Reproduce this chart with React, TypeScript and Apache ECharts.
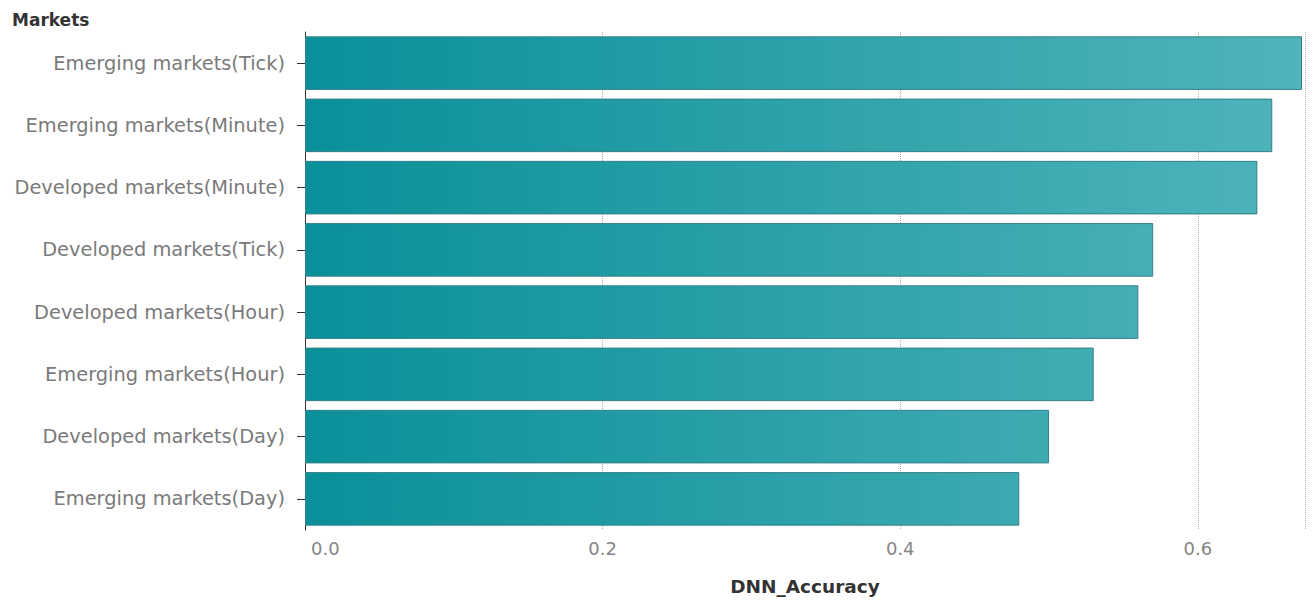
import React, { useEffect, useRef } from "react";
import * as echarts from "echarts";

const categories = [
  "Emerging markets(Tick)",
  "Emerging markets(Minute)",
  "Developed markets(Minute)",
  "Developed markets(Tick)",
  "Developed markets(Hour)",
  "Emerging markets(Hour)",
  "Developed markets(Day)",
  "Emerging markets(Day)",
];
const accuracy = [0.67, 0.65, 0.64, 0.57, 0.56, 0.53, 0.5, 0.48];
const xTicks = [0, 0.2, 0.4, 0.6];

export default function App() {
  const ref = useRef<HTMLDivElement>(null);
  useEffect(() => {
    const chart = echarts.init(ref.current!, undefined, { renderer: "svg" });
    const font = "DejaVu Sans";
    chart.setOption({
      animation: false,
      title: {
        text: "Markets",
        left: 12,
        top: 11,
        padding: 0,
        textStyle: { fontFamily: font, fontSize: 17, fontWeight: "bold", color: "#333" },
      },
      grid: {
        left: 305,
        right: 9,
        top: 32,
        bottom: 74,
        containLabel: false,
        outerBoundsMode: "none",
      },
      xAxis: {
        type: "value",
        min: 0,
        max: 0.672,
        interval: 0.2,
        name: "DNN_Accuracy",
        nameLocation: "middle",
        nameGap: 47,
        nameTextStyle: { fontFamily: font, fontSize: 18.5, fontWeight: "bold", color: "#333" },
        axisLine: { show: false },
        axisTick: { show: false },
        axisLabel: {
          fontFamily: font,
          fontSize: 18,
          color: "#858585",
          margin: 9,
          showMaxLabel: false,
          formatter: (v: number) => {
            if (!xTicks.some((t) => Math.abs(t - v) < 1e-9)) return "";
            return v === 0 ? "{p|0.0}" : v.toFixed(1);
          },
          rich: { p: { fontFamily: font, fontSize: 18, color: "#858585", padding: [0, 0, 0, 6] } },
          alignMinLabel: "left",
        },
        splitLine: { show: true, lineStyle: { type: "dotted", color: "#aaa", width: 1 } },
      },
      yAxis: {
        type: "category",
        inverse: true,
        data: categories,
        axisLine: { show: true, lineStyle: { color: "#333", width: 1 } },
        axisTick: { show: true, alignWithLabel: true, length: 8, lineStyle: { color: "#333" } },
        axisLabel: { fontFamily: font, fontSize: 19.4, color: "#7a7a7a", margin: 20 },
      },
      series: [
        {
          type: "bar",
          data: accuracy,
          barCategoryGap: "14%",
          itemStyle: {
            color: new echarts.graphic.LinearGradient(305, 0, 1305, 0, [
              { offset: 0, color: "#0a9099" },
              { offset: 0.45, color: "#2aa0a8" },
              { offset: 1, color: "#50b4bc" },
            ], true),
            borderColor: "#35808a",
            borderWidth: 1,
          },
        },
      ],
    });
    return () => chart.dispose();
  }, []);
  return (
    <div
      ref={ref}
      style={{ position: "absolute", left: 0, top: 0, width: 1314, height: 604 }}
    />
  );
}
